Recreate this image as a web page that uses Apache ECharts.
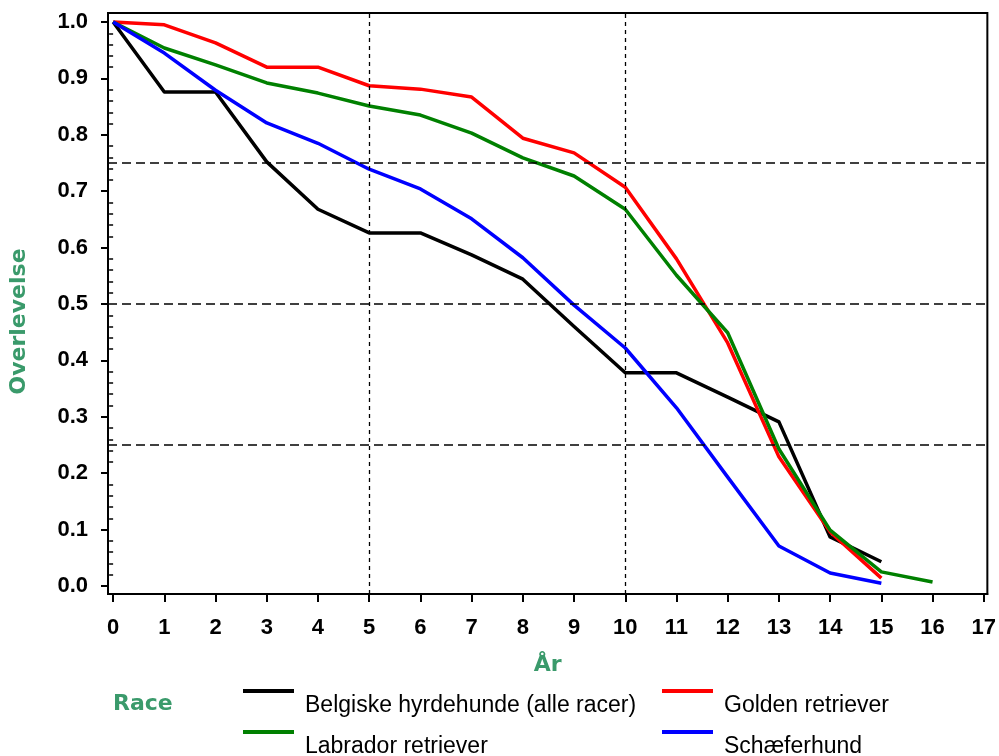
<!DOCTYPE html>
<html>
<head>
<meta charset="utf-8">
<script src="https://cdn.jsdelivr.net/npm/echarts@6/dist/echarts.min.js"></script>
<style>
  html, body { margin: 0; padding: 0; background: #fff; }
  #chart { width: 999px; height: 756px; }
</style>
</head>
<body>
<div id="chart"></div>
<script>
// overlevelse pr. år for hver race
const years = [0, 1, 2, 3, 4, 5, 6, 7, 8, 9, 10, 11, 12, 13, 14, 15, 16];
const belgiske = [1.0, 0.876, 0.876, 0.752, 0.668, 0.626, 0.626, 0.587, 0.544, 0.46, 0.378, 0.378, 0.335, 0.291, 0.087, 0.043];
const golden = [1.0, 0.995, 0.963, 0.92, 0.92, 0.887, 0.881, 0.867, 0.794, 0.768, 0.707, 0.58, 0.431, 0.229, 0.096, 0.014];
const labrador = [1.0, 0.954, 0.924, 0.892, 0.874, 0.851, 0.835, 0.803, 0.759, 0.727, 0.668, 0.551, 0.449, 0.243, 0.099, 0.025, 0.007];
const schaefer = [1.0, 0.945, 0.879, 0.821, 0.785, 0.739, 0.704, 0.651, 0.582, 0.498, 0.422, 0.316, 0.193, 0.071, 0.023, 0.005];

const xTicks = [0, 1, 2, 3, 4, 5, 6, 7, 8, 9, 10, 11, 12, 13, 14, 15, 16, 17];
const yTicks = [0, 0.1, 0.2, 0.3, 0.4, 0.5, 0.6, 0.7, 0.8, 0.9, 1.0];
const refY = [0.25, 0.5, 0.75];
const refX = [5, 10];

const names = ['Belgiske hyrdehunde (alle racer)', 'Golden retriever', 'Labrador retriever', 'Schæferhund'];
const colors = ['#000000', '#ff0000', '#008000', '#0000ff'];
const values = [belgiske, golden, labrador, schaefer];

const yMinor = [];
for (let i = 0; i < 50; i++) {
  if (i % 5 !== 0) yMinor.push(+(i * 0.02).toFixed(2));
}

const titleGreen = '#3a9a6b';
const labelFont = 'Liberation Sans, Arial, sans-serif';
const titleFont = 'DejaVu Sans, Verdana, sans-serif';

let chart = echarts.init(document.getElementById('chart'));

let series = values.map(function (vals, i) {
  return {
    name: names[i],
    type: 'line',
    color: colors[i],
    symbol: 'none',
    lineStyle: { width: 3.5, color: colors[i], join: 'round' },
    z: 3,
    data: vals.map(function (v, j) { return [years[j], v]; })
  };
});

// referencelinjer
series.push({
  name: 'ref',
  type: 'line',
  data: [],
  z: 1,
  markLine: {
    silent: true,
    symbol: 'none',
    animation: false,
    label: { show: false },
    data: refY.map(function (v) {
      return { yAxis: v, lineStyle: { color: '#000', width: 1.5, type: [9, 5] } };
    }).concat(refX.map(function (v) {
      return { xAxis: v, lineStyle: { color: '#000', width: 1.3, type: [4, 4] } };
    }))
  }
});

// legend: streg øverst, tekst forskudt ned til højre
const legendPos = [[243, 661], [662, 661], [243, 702], [662, 702]];

let option = {
  animation: false,
  backgroundColor: '#fff',
  title: {
    text: 'Race',
    left: 113,
    top: 691,
    padding: 0,
    textStyle: { color: titleGreen, fontFamily: titleFont, fontWeight: 'bold', fontSize: 22, lineHeight: 26 }
  },
  legend: names.map(function (n, i) {
    return {
      data: [n],
      left: legendPos[i][0],
      top: legendPos[i][1],
      padding: 0,
      icon: 'rect',
      itemWidth: 51,
      itemHeight: 4,
      selectedMode: false,
      formatter: function (name) { return '\n' + name; },
      textStyle: {
        fontFamily: labelFont,
        fontSize: 23,
        color: '#000',
        lineHeight: 30,
        padding: [0, 0, 0, 6]
      }
    };
  }),
  grid: {
    left: 107,
    right: 9,
    top: 13,
    bottom: 162,
    show: true,
    borderColor: '#000',
    borderWidth: 2,
    containLabel: false
  },
  xAxis: {
    type: 'value',
    min: -0.1,
    max: 17.07,
    name: 'År',
    nameLocation: 'middle',
    nameGap: 60,
    nameTextStyle: { color: titleGreen, fontFamily: titleFont, fontWeight: 'bold', fontSize: 22 },
    axisLine: { show: true, onZero: false, lineStyle: { color: '#000', width: 2 } },
    axisTick: { show: true, customValues: xTicks, length: 8, lineStyle: { color: '#000', width: 2 } },
    axisLabel: {
      customValues: xTicks,
      margin: 23,
      color: '#000',
      fontFamily: labelFont,
      fontWeight: 'bold',
      fontSize: 22
    },
    splitLine: { show: false }
  },
  yAxis: [
    {
      type: 'value',
      min: -0.0142,
      max: 1.016,
      name: 'Overlevelse',
      nameLocation: 'middle',
      nameGap: 78,
      nameTextStyle: {
        color: titleGreen, fontFamily: titleFont, fontWeight: 'bold', fontSize: 22,
        padding: [0, 36, 0, 0]
      },
      axisLine: { show: true, onZero: false, lineStyle: { color: '#000', width: 2 } },
      axisTick: { show: true, customValues: yTicks, length: 7, lineStyle: { color: '#000', width: 2 } },
      axisLabel: {
        customValues: yTicks,
        margin: 20,
        color: '#000',
        fontFamily: labelFont,
        fontWeight: 'bold',
        fontSize: 22,
        formatter: function (v) { return v.toFixed(1); }
      },
      splitLine: { show: false }
    },
    {
      type: 'value',
      position: 'left',
      min: -0.0142,
      max: 1.016,
      axisLine: { show: false },
      axisTick: { show: true, customValues: yMinor, length: 4, lineStyle: { color: '#000', width: 1.5 } },
      axisLabel: { show: false },
      splitLine: { show: false }
    }
  ],
  series: series
};

chart.setOption(option);
</script>
</body>
</html>
